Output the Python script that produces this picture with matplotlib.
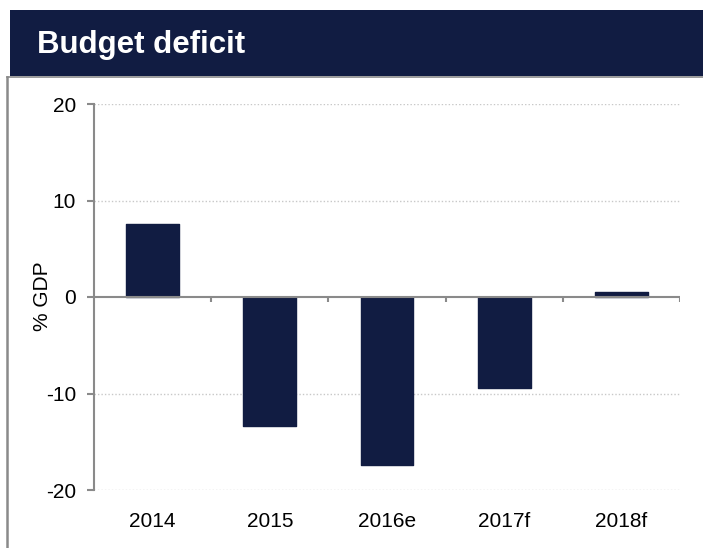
import matplotlib
matplotlib.use("Agg")
import matplotlib.pyplot as plt
from matplotlib.lines import Line2D
from matplotlib.patches import Rectangle

NAVY = "#111c42"
AXIS_GREY = "#8a8a8a"
GRID_GREY = "#c8c8c8"

years = ["2014", "2015", "2016e", "2017f", "2018f"]
deficit = [7.6, -13.4, -17.4, -9.4, 0.5]
y_ticks = [-20, -10, 0, 10, 20]

plt.rcParams["font.family"] = ["Liberation Sans", "DejaVu Sans"]

fig = plt.figure(figsize=(7.03, 5.48), dpi=100)
fig.patch.set_facecolor("white")

# header band with title
fig.patches.append(Rectangle((10 / 703, 1 - 76 / 548), 1, 66 / 548,
                             transform=fig.transFigure, facecolor=NAVY,
                             edgecolor="none", zorder=0))
fig.text(37 / 703, 1 - 45 / 548, "Budget deficit", color="white",
         fontsize=22.5, fontweight="bold", va="center", ha="left")

# panel frame: thin grey rule under the header and down the left side
fig.lines.append(Line2D([6.5 / 703, 1], [1 - 77 / 548] * 2,
                        transform=fig.transFigure, color=AXIS_GREY, lw=1.2))
fig.lines.append(Line2D([6.5 / 703] * 2, [0, 1 - 77 / 548],
                        transform=fig.transFigure, color=AXIS_GREY, lw=1.8))

ax = fig.add_axes([94 / 703, 58 / 548, 586 / 703, 386 / 548])
x = list(range(len(years)))
ax.bar(x, deficit, width=0.45, color=NAVY, edgecolor=NAVY, linewidth=1,
       joinstyle="round", zorder=3)

ax.set_xlim(-0.5, len(years) - 0.5)
ax.set_ylim(-20, 20)
ax.set_yticks(y_ticks)
ax.set_yticklabels([str(v) for v in y_ticks])
fig.text(43 / 703, 1 - 296 / 548, "% GDP", rotation=90, fontsize=15,
         ha="center", va="center")

# dotted horizontal gridlines (zero line is the category axis)
for v in y_ticks:
    if v != 0:
        ax.axhline(v, color=GRID_GREY, lw=1, ls=(0, (1, 1.5)), zorder=1)

for side in ["top", "right", "bottom"]:
    ax.spines[side].set_visible(False)
ax.spines["left"].set_color(AXIS_GREY)
ax.spines["left"].set_linewidth(1.5)

# category axis at zero with tick marks between categories
ax.axhline(0, color=AXIS_GREY, lw=1.5, zorder=4)
for b in [i + 0.5 for i in x]:
    ax.plot([b, b], [0, -0.55], color=AXIS_GREY, lw=1.5, zorder=4,
            solid_capstyle="butt")

ax.tick_params(axis="y", direction="out", length=5, width=1.5,
               color=AXIS_GREY, labelsize=15, pad=8)
ax.set_xticks(x)
ax.set_xticklabels(years)
ax.tick_params(axis="x", length=0, labelsize=15, pad=16)

fig.savefig("out.png", dpi=100)
